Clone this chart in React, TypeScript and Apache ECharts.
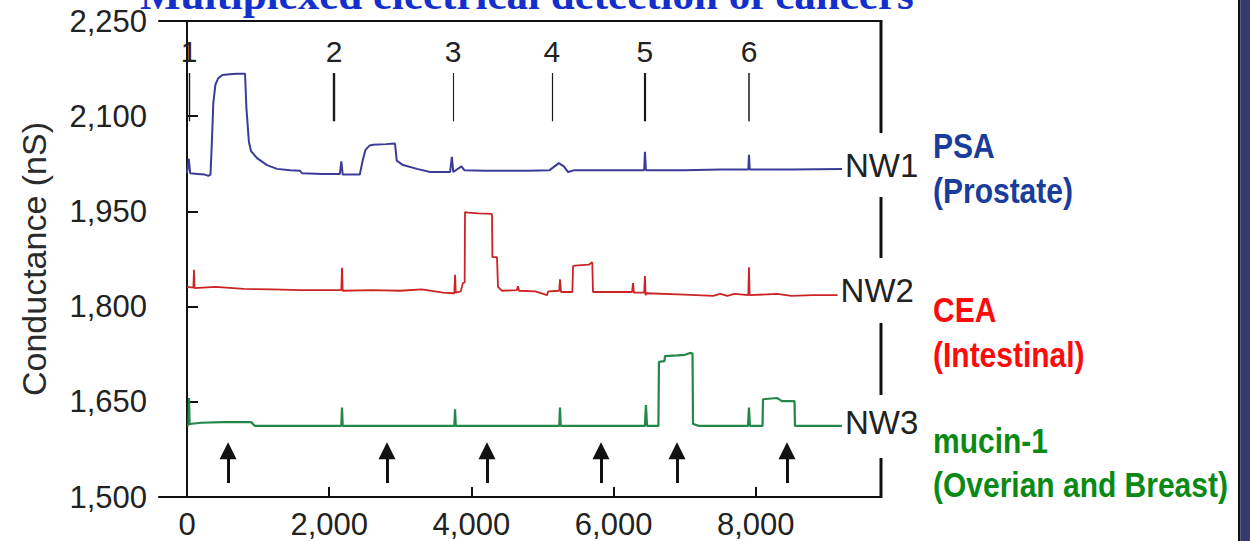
import React, { useEffect, useRef } from "react";
import * as echarts from "echarts";

// ---- data ----
const xTicks = [0, 2000, 4000, 6000, 8000];

const nw1X = [0, 25, 45, 150, 250, 300, 330, 350, 370, 400, 440, 500, 600, 700, 816, 835, 870, 900, 985, 1125, 1266, 1450, 1590, 1620, 1900, 2150, 2170, 2190, 2430, 2470, 2510, 2570, 2616, 2800, 2925, 2950, 3038, 3235, 3418, 3700, 3725, 3745, 3860, 3900, 4200, 4800, 5100, 5230, 5300, 5360, 5450, 6000, 6430, 6441, 6455, 7000, 7500, 7895, 7904, 7915, 8500, 9212];
const nw1Y = [2010, 2033, 2010, 2009, 2008, 2006, 2008, 2060, 2121, 2150, 2160, 2165, 2166, 2167, 2167, 2114, 2060, 2045, 2034, 2023, 2017, 2015, 2014, 2010, 2009, 2009, 2029, 2008, 2008, 2030, 2047, 2054, 2055, 2056, 2057, 2030, 2023, 2017, 2012, 2012, 2036, 2012, 2021, 2015, 2014, 2014, 2015, 2026, 2021, 2012, 2015, 2015, 2015, 2044, 2015, 2015, 2016, 2016, 2039, 2016, 2016, 2017];

const nw2X = [0, 90, 98, 106, 400, 800, 1200, 1600, 2000, 2170, 2180, 2190, 2600, 3000, 3300, 3600, 3760, 3770, 3780, 3850, 3880, 3905, 3910, 3950, 4100, 4290, 4295, 4360, 4374, 4430, 4640, 4655, 4670, 4900, 5063, 5080, 5235, 5246, 5260, 5420, 5430, 5500, 5650, 5700, 5710, 6000, 6260, 6273, 6285, 6430, 6441, 6450, 6465, 7000, 7400, 7500, 7600, 7700, 7895, 7904, 7913, 8300, 8500, 8800, 9150];
const nw2Y = [1831, 1830, 1858, 1829, 1831, 1828, 1827, 1826, 1826, 1826, 1861, 1825, 1826, 1825, 1827, 1822, 1821, 1850, 1822, 1824, 1837, 1838, 1949, 1948, 1947, 1946, 1878, 1878, 1831, 1825, 1826, 1832, 1825, 1824, 1818, 1824, 1825, 1843, 1823, 1823, 1864, 1865, 1866, 1870, 1823, 1823, 1823, 1837, 1822, 1822, 1848, 1818, 1821, 1819, 1817, 1820, 1817, 1820, 1818, 1862, 1818, 1820, 1817, 1818, 1818];

const nw3X = [0, 20, 28, 36, 200, 500, 900, 956, 1500, 2000, 2170, 2180, 2190, 3000, 3760, 3770, 3780, 4500, 5236, 5246, 5256, 6000, 6440, 6455, 6470, 6630, 6638, 6715, 6723, 6900, 7004, 7075, 7110, 7117, 7200, 7890, 7904, 7918, 8095, 8101, 8298, 8340, 8369, 8523, 8545, 8551, 9212];
const nw3Y = [1613, 1613, 1656, 1615, 1617, 1618, 1618, 1612, 1612, 1612, 1612, 1641, 1612, 1612, 1612, 1638, 1612, 1612, 1612, 1641, 1612, 1612, 1612, 1645, 1612, 1612, 1713, 1714, 1722, 1723, 1724, 1727, 1726, 1615, 1612, 1612, 1641, 1612, 1612, 1654, 1656, 1653, 1651, 1651, 1651, 1612, 1612];

const markerX = [28, 2068, 3741, 5133, 6441, 7904];
const markerLabels = ["1", "2", "3", "4", "5", "6"];
const markerWidths = [1.4, 2.4, 1.1, 1.2, 2.2, 1.5];
const markerBottom = 2092;
const markerTop = 2168;

const arrowX = [577, 2813, 4219, 5823, 6892, 8439];
const arrowBottom = 1522;
const arrowTop = 1573;

const seriesNames = ["NW1", "NW2", "NW3"];
const seriesColors = ["#3b3c98", "#cc2424", "#23874a"];

const zip = (xs: number[], ys: number[]) => xs.map((x, i) => [x, ys[i]]);
const fmt = (v: number) => Number(v).toLocaleString("en-US");

const SANS = "'Liberation Sans', Arial, Helvetica, sans-serif";
const NOTE_FONT = "bold 30px 'Liberation Sans', Arial, sans-serif";

export default function App() {
  const ref = useRef<HTMLDivElement>(null);

  useEffect(() => {
    if (!ref.current) return;
    const chart = echarts.init(ref.current, undefined, { renderer: "svg" });

    const endLabel = (name: string, dy: number) => ({
      show: true,
      formatter: () => name,
      fontSize: 33,
      fontFamily: SANS,
      color: "#222",
      distance: 3,
      offset: [0, dy],
    });

    const note = (text: string, y: number, fill: string) => ({
      type: "text",
      x: 933,
      y,
      scaleY: 1.16,
      style: { text, font: NOTE_FONT, fill, verticalAlign: "middle" },
    });

    const option: any = {
      animation: false,
      backgroundColor: "#ffffff",
      grid: { left: 159, top: 21, width: 722, height: 476, containLabel: false },
      xAxis: [
        {
          type: "value",
          min: -394,
          max: 9761,
          axisLine: { show: true, lineStyle: { color: "#111", width: 2 } },
          axisTick: {
            show: true,
            inside: true,
            length: 10,
            customValues: xTicks,
            lineStyle: { color: "#111", width: 2 },
          },
          axisLabel: {
            customValues: xTicks,
            formatter: (v: number) => fmt(v),
            fontSize: 31,
            fontFamily: SANS,
            color: "#222",
            margin: 12,
          },
          splitLine: { show: false },
        },
        {
          type: "value",
          position: "top",
          min: -394,
          max: 9761,
          axisLine: { show: true, lineStyle: { color: "#111", width: 2 } },
          axisTick: { show: false },
          axisLabel: { show: false },
          splitLine: { show: false },
        },
      ],
      yAxis: {
        type: "value",
        min: 1500,
        max: 2250,
        interval: 150,
        axisLine: { show: true, lineStyle: { color: "#111", width: 2 } },
        axisTick: { show: true, inside: true, length: 11, lineStyle: { color: "#111", width: 2 } },
        axisLabel: {
          formatter: (v: number) => fmt(v),
          fontSize: 31,
          fontFamily: SANS,
          color: "#222",
          margin: 12,
        },
        splitLine: { show: false },
        name: "Conductance (nS)",
        nameLocation: "middle",
        nameGap: 108,
        nameTextStyle: { fontSize: 34, fontFamily: SANS, color: "#2a2a2a" },
      },
      series: [
        {
          name: seriesNames[0],
          type: "line",
          data: zip(nw1X, nw1Y),
          showSymbol: false,
          symbol: "none",
          lineStyle: { color: seriesColors[0], width: 2 },
          endLabel: endLabel(seriesNames[0], -3),
          markLine: {
            silent: true,
            symbol: ["none", "none"],
            animation: false,
            lineStyle: { color: "#1a1a1a", type: "solid" },
            label: {
              show: true,
              position: "end",
              formatter: (p: any) => p.name,
              fontSize: 30,
              fontFamily: SANS,
              color: "#222",
              distance: 7,
            },
            emphasis: { disabled: true },
            data: markerX.map((x, i) => [
              { name: markerLabels[i], coord: [x, markerBottom], lineStyle: { width: markerWidths[i], type: "solid", color: "#1a1a1a" } },
              { name: markerLabels[i], coord: [x, markerTop] },
            ]),
          },
        },
        {
          name: seriesNames[1],
          type: "line",
          data: zip(nw2X, nw2Y),
          showSymbol: false,
          symbol: "none",
          lineStyle: { color: seriesColors[1], width: 1.8 },
          endLabel: endLabel(seriesNames[1], -5),
        },
        {
          name: seriesNames[2],
          type: "line",
          data: zip(nw3X, nw3Y),
          showSymbol: false,
          symbol: "none",
          lineStyle: { color: seriesColors[2], width: 2.2 },
          endLabel: endLabel(seriesNames[2], -3),
          markLine: {
            silent: true,
            symbol: ["none", "triangle"],
            symbolSize: 17,
            animation: false,
            lineStyle: { color: "#111", width: 3, type: "solid" },
            label: { show: false },
            emphasis: { disabled: true },
            data: arrowX.map((x) => [{ coord: [x, arrowBottom] }, { coord: [x, arrowTop] }]),
          },
        },
      ],
      graphic: [
        {
          type: "text",
          left: 140,
          top: -27,
          style: {
            text: "Multiplexed electrical detection of cancers",
            font: "bold 43px 'Liberation Serif', 'Times New Roman', serif",
            fill: "#1430cc",
          },
        },
        // right frame segments (broken by the NW labels)
        { type: "line", shape: { x1: 881, y1: 20, x2: 881, y2: 133 }, style: { stroke: "#111", lineWidth: 3 } },
        { type: "line", shape: { x1: 881, y1: 197, x2: 881, y2: 258 }, style: { stroke: "#111", lineWidth: 3 } },
        { type: "line", shape: { x1: 881, y1: 323, x2: 881, y2: 395 }, style: { stroke: "#111", lineWidth: 3 } },
        { type: "line", shape: { x1: 881, y1: 458, x2: 881, y2: 498 }, style: { stroke: "#111", lineWidth: 3 } },
        // annotations
        note("PSA", 146, "#1a3c9a"),
        note("(Prostate)", 191, "#1a3c9a"),
        note("CEA", 310, "#ff0a0a"),
        note("(Intestinal)", 355, "#ff0a0a"),
        note("mucin-1", 441, "#0a8a14"),
        note("(Overian and Breast)", 485, "#0a8a14"),
        // dark slide edge on the right
        { type: "rect", shape: { x: 1238, y: 0, width: 2.5, height: 541 }, style: { fill: "#111" } },
        { type: "rect", shape: { x: 1240.5, y: 0, width: 10, height: 541 }, style: { fill: "#363a70" } },
      ],
    };

    chart.setOption(option);
    return () => chart.dispose();
  }, []);

  return (
    <div
      ref={ref}
      style={{ position: "absolute", left: 0, top: 0, width: 1250, height: 541, background: "#fff" }}
    />
  );
}
